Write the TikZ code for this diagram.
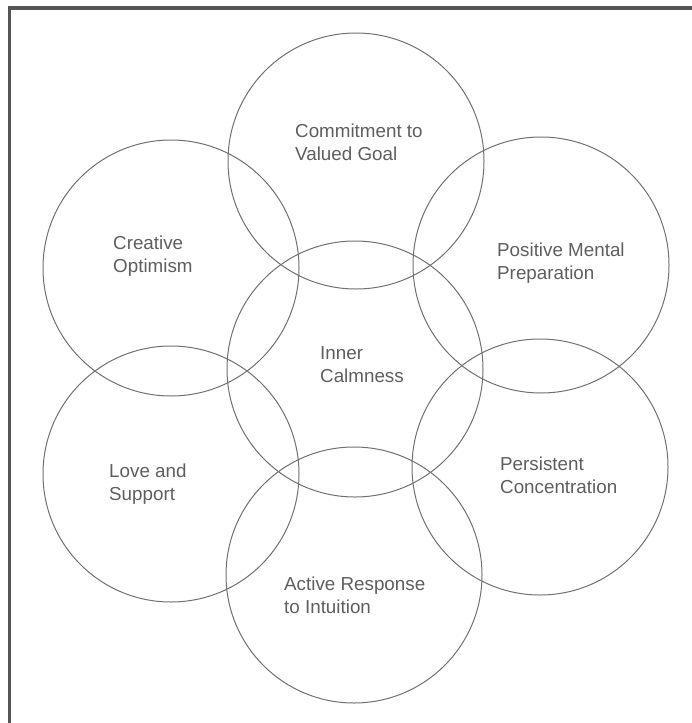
\documentclass[tikz,border=0pt]{standalone}
\usepackage{fontspec}
\setmainfont{Liberation Sans}
\definecolor{ringgray}{HTML}{707070}
\definecolor{textgray}{HTML}{5E5E5E}
\definecolor{framegray}{HTML}{555555}
\begin{document}
\begin{tikzpicture}[x=1pt,y=-1pt,
  ring/.style={circle,draw=ringgray,line width=1pt,minimum size=256pt,inner sep=0pt},
  lbl/.style={anchor=base west,align=left,inner sep=0pt,text=textgray,
    font=\fontsize{18.8}{22.5}\selectfont}]
\useasboundingbox (0,0) rectangle (692,723);
\draw[framegray,line width=3.5pt] (692,8) -- (9.5,8) -- (9.5,723);
% circles
\node[ring] (goal)  at (356,161) {};
\node[ring] (calm)  at (355,369) {};
\node[ring] (act)   at (354,575) {};
\node[ring] (crea)  at (171,268) {};
\node[ring] (love)  at (171,474) {};
\node[ring] (pos)   at (541,265) {};
\node[ring] (pers)  at (540,467) {};
% labels (anchor = baseline of the last line)
\node[lbl] (tgoal) at (295,160) {Commitment to\\Valued Goal};
\node[lbl] (tcrea) at (113,272) {Creative\\Optimism};
\node[lbl] (tcalm) at (320,382) {Inner\\Calmness};
\node[lbl] (tlove) at (109,500) {Love and\\Support};
\node[lbl] (tpos)  at (497,279) {Positive Mental\\Preparation};
\node[lbl] (tpers) at (500,493) {Persistent\\Concentration};
\node[lbl] (tact)  at (284,613) {Active Response\\to Intuition};
\end{tikzpicture}
\end{document}
